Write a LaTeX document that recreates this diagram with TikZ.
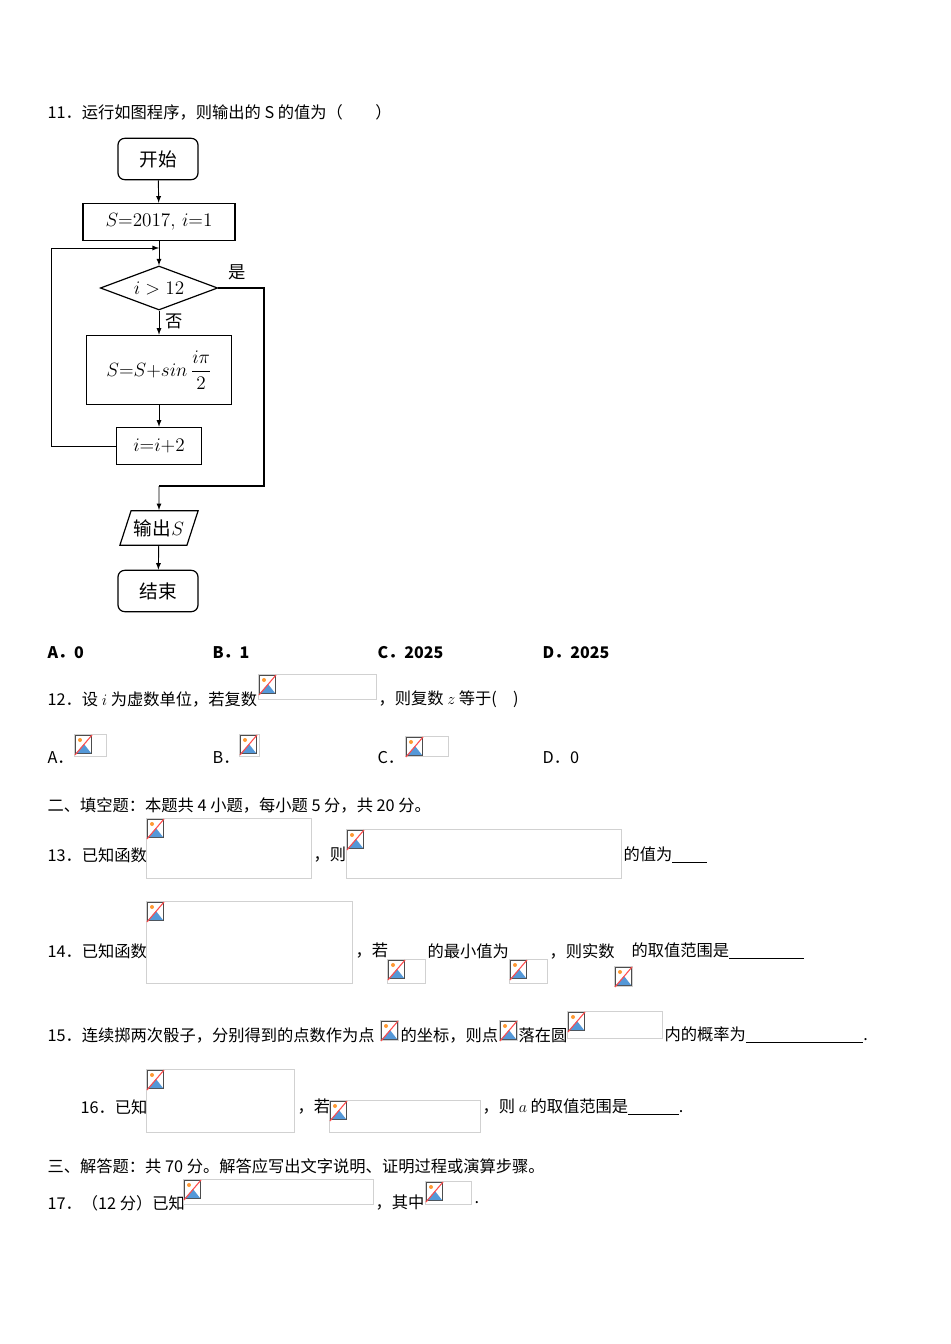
\documentclass[tikz,border=0pt]{standalone}
\usepackage{amsmath}
\usepackage{fontspec}
\setmainfont{Noto Sans CJK SC}
\usetikzlibrary{shapes.geometric,positioning}
\tikzset{
  txt/.style={anchor=west,inner sep=0pt,font=\fontsize{12.2}{14}\selectfont},
  term/.style={draw,rounded corners=5pt,minimum width=60pt,minimum height=31pt,font=\fontsize{14}{16}\selectfont},
  proc/.style={draw,inner sep=0pt,font=\fontsize{14}{16}\selectfont},
  flow/.style={-latex,line width=0.7pt},
  imgbox/.style={draw=black!18,line width=0.6pt}
}
% broken image placeholder: top-left x, y, width, height (pixels)
\newcommand{\brokenpic}[4]{%
  \draw[imgbox] (#1,#2) rectangle ++(#3,#4);
  \fill[white] (#1+1,#2+1) rectangle ++(17,19);
  \draw[black!70,line width=0.5pt] (#1+1.5,#2+1.5) rectangle ++(16,18);
  \fill[cyan!60!blue!70] (#1+2,#2+19) -- (#1+10,#2+10) -- (#1+17,#2+19) -- cycle;
  \fill[orange!80] (#1+6,#2+6) circle (2);
  \draw[red!70,line width=0.8pt] (#1+1,#2+21) -- (#1+18,#2+1);
}
\begin{document}
\begin{tikzpicture}[x=0.75pt,y=-0.75pt,line width=0.9pt]
\useasboundingbox (0,0) rectangle (950,1344);
\fill[white] (0,0) rectangle (950,1344);

% question 11
\node[txt] (q11) at (47,112) {11．运行如图程序，则输出的 S 的值为（　　）};

% flowchart
\node[term] (start) at (158,159) {开始};
\node[proc,minimum width=114pt,minimum height=28pt] (init) at (159,222) {$S{=}2017,\,i{=}1$};
\node[draw,diamond,aspect=2.7,inner sep=0pt,minimum width=88pt,minimum height=33pt,font=\fontsize{14}{16}\selectfont] (cond) at (159,288) {$i>12$};
\node[proc,minimum width=109pt,minimum height=52pt] (body) at (159,370) {$S{=}S{+}sin\,\dfrac{i\pi}{2}$};
\node[proc,minimum width=64pt,minimum height=28pt] (inc) at (159,446) {$i{=}i{+}2$};
\node[draw,trapezium,trapezium left angle=72,trapezium right angle=108,inner xsep=-3pt,minimum height=26pt,font=\fontsize{14}{16}\selectfont] (out) at (159,528) {输出$S$};
\node[term] (stop) at (158,591) {结束};
\coordinate (join) at (159,248);
\coordinate (merge) at (159,486);

\draw[flow] (start) -- (init);
\draw[flow] (init) -- (cond);
\draw[flow] (cond) -- (body) node[pos=0.45,right=1pt,font=\fontsize{13}{15}\selectfont] {否};
\draw[flow] (body) -- (inc);
\draw[flow] (inc.west) -| (51,248) -- (join);
\draw (cond.east) -- (264,288) |- (merge);
\node[font=\fontsize{13}{15}\selectfont] (yes) at (237,272) {是};
\draw[flow] (merge) -- (out);
\draw[flow] (out) -- (stop);

% options of 11
\node[txt,font=\fontsize{12}{14}\selectfont\bfseries] (a11) at (47,653) {A．0};
\node[txt,font=\fontsize{12}{14}\selectfont\bfseries] (b11) at (212,653) {B．1};
\node[txt,font=\fontsize{12}{14}\selectfont\bfseries] (c11) at (377,653) {C．2025};
\node[txt,font=\fontsize{12}{14}\selectfont\bfseries] (d11) at (542,653) {D．2025};

% question 12
\node[txt] (q12) at (47,699) {12．设 $i$ 为虚数单位，若复数};
\brokenpic{258}{674}{118}{25}
\node[txt] (q12b) at (378,699) {，则复数 $z$ 等于(　)};
\node[txt] (a12) at (47,758) {A．};
\brokenpic{74}{734}{32}{22}
\node[txt] (b12) at (212,758) {B．};
\brokenpic{239}{734}{20}{22}
\node[txt] (c12) at (377,758) {C．};
\brokenpic{405}{736}{43}{20}
\node[txt] (d12) at (542,758) {D．0};

% part two
\node[txt] (sec2) at (47,805) {二、填空题：本题共 4 小题，每小题 5 分，共 20 分。};

% question 13
\node[txt] (q13) at (47,855) {13．已知函数};
\brokenpic{146}{818}{165}{60}
\node[txt] (q13b) at (313,855) {，则};
\brokenpic{346}{829}{275}{49}
\node[txt] (q13c) at (623,855) {的值为\underline{\hspace{26pt}}};

% question 14
\node[txt] (q14) at (47,951) {14．已知函数};
\brokenpic{146}{901}{206}{82}
\node[txt] (q14b) at (355,951) {，若};
\node[txt] (q14c) at (427,951) {的最小值为};
\node[txt] (q14d) at (549,951) {，则实数};
\node[txt] (q14e) at (631,951) {的取值范围是\underline{\hspace{56pt}}};
\brokenpic{387}{959}{38}{24}
\brokenpic{509}{959}{38}{24}
\brokenpic{614}{966}{18}{20}

% question 15
\node[txt] (q15) at (47,1035) {15．连续掷两次骰子，分别得到的点数作为点};
\brokenpic{380}{1020}{18}{20}
\node[txt] (q15b) at (400,1035) {的坐标，则点};
\brokenpic{499}{1020}{18}{20}
\node[txt] (q15c) at (518,1035) {落在圆};
\brokenpic{567}{1011}{95}{27}
\node[txt] (q15d) at (664,1035) {内的概率为\underline{\hspace{88pt}}.};

% question 16
\node[txt] (q16) at (80,1107) {16．已知};
\brokenpic{146}{1069}{148}{63}
\node[txt] (q16b) at (297,1107) {，若};
\brokenpic{329}{1100}{151}{32}
\node[txt] (q16c) at (482,1107) {，则 $a$ 的取值范围是\underline{\hspace{38pt}}.};

% part three
\node[txt] (sec3) at (47,1166) {三、解答题：共 70 分。解答应写出文字说明、证明过程或演算步骤。};

% question 17
\node[txt] (q17) at (47,1203) {17．（12 分）已知};
\brokenpic{183}{1179}{190}{25}
\node[txt] (q17b) at (375,1203) {，其中};
\brokenpic{425}{1181}{46}{23}
\node[txt] (q17c) at (474,1203) {.};
\end{tikzpicture}
\end{document}
